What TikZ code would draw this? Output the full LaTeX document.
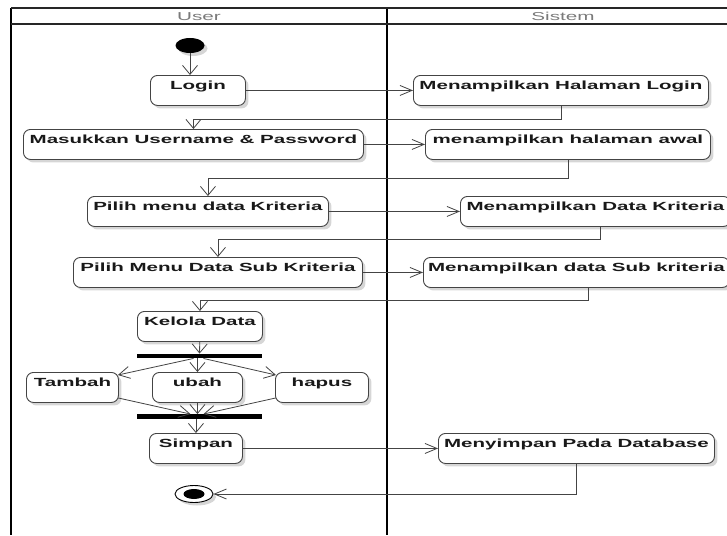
\documentclass[tikz,border=0pt]{standalone}
\usepackage{fontspec}
\setmainfont{Liberation Sans}[FakeStretch=1.74]
\newfontfamily\hdrfont{Liberation Sans}[FakeStretch=1.8]
\usetikzlibrary{arrows.meta,shadows,calc,shapes.geometric}
\definecolor{lnc}{HTML}{444444}
\definecolor{hdrc}{HTML}{7a7a7a}
\tikzset{
  softshadow/.style={drop shadow={shadow xshift=3pt, shadow yshift=-3pt, opacity=0.16, fill=black}},
  act/.style={draw=lnc, line width=0.9pt, rounded corners=7pt, fill=white, anchor=north west,
    inner xsep=4pt, inner ysep=5.5pt, text height=8.5pt, text depth=10.5pt,
    font=\fontsize{11.8}{13}\selectfont\bfseries, text=black!90, softshadow},
  bar/.style={fill=black, minimum width=125pt, minimum height=4.5pt, inner sep=0pt},
  startn/.style={ellipse, fill=black, minimum width=29pt, minimum height=15pt, inner sep=0pt, softshadow},
  endo/.style={ellipse, draw=black, line width=0.9pt, fill=white, minimum width=38pt, minimum height=17pt, inner sep=0pt, softshadow},
  endi/.style={ellipse, fill=black, minimum width=21pt, minimum height=10pt, inner sep=0pt},
  hdr/.style={font=\hdrfont\fontsize{11.5}{13}\selectfont, text=hdrc, inner sep=0pt},
  lane/.style={draw=black, line width=2.8pt},
  hline/.style={draw=black!85, line width=1.3pt},
  con/.style={draw=lnc, line width=0.8pt},
  harr/.style={con, -{Straight Barb[length=12pt,width=10pt]}},
  varr/.style={con, -{Straight Barb[length=9pt,width=15pt]}},
  darr/.style={con, -{Straight Barb[length=11pt,width=12pt]}},
}
\begin{document}
\begin{tikzpicture}[x=1pt,y=-1pt]
\useasboundingbox (0,0) rectangle (727,535);
\fill[white] (0,0) rectangle (727,535);
% swimlanes
\draw[lane] (11,8) -- (11,535);
\draw[lane] (387,8) -- (387,535);
\draw[hline] (11,8) -- (727,8);
\draw[hline] (11,24) -- (727,24);
\node[hdr] (huser) at (199,16.5) {User};
\node[hdr] (hsis) at (563,16.5) {Sistem};
% nodes
\node[startn] (start) at (190,45.5) {};
\node[act, minimum width=95pt] (login) at (150,75) {Login};
\node[act, minimum width=295pt] (hlogin) at (413,75) {Menampilkan Halaman Login};
\node[act, minimum width=340pt] (masuk) at (23,129) {Masukkan Username \& Password};
\node[act, minimum width=285pt] (awal) at (425,129) {menampilkan halaman awal};
\node[act, minimum width=241pt] (pkrit) at (87,196) {Pilih menu data Kriteria};
\node[act, minimum width=270pt] (dkrit) at (460,196) {Menampilkan Data Kriteria};
\node[act, minimum width=289pt] (psub) at (73,257) {Pilih Menu Data Sub Kriteria};
\node[act, minimum width=306pt] (dsub) at (423,257) {Menampilkan data Sub kriteria};
\node[act, minimum width=125pt] (kelola) at (137,311) {Kelola Data};
\node[bar] (fork) at (199.5,356) {};
\node[act, minimum width=92pt] (tambah) at (26,372) {Tambah};
\node[act, minimum width=90pt] (ubah) at (152,372) {ubah};
\node[act, minimum width=93pt] (hapus) at (275,372) {hapus};
\node[bar] (join) at (199.5,416.5) {};
\node[act, minimum width=93pt] (simpan) at (149,433) {Simpan};
\node[act, minimum width=276pt] (db) at (438,433) {Menyimpan Pada Database};
\node[endo] (endc) at (194,494) {};
\node[endi] (endin) at (endc) {};
% connectors
\draw[varr] (start) -- (start |- login.north);
\draw[harr] (login) -- (hlogin);
\draw[varr] (hlogin.south) -- ++(0,13) -| (masuk.north);
\draw[harr] (masuk) -- (awal);
\draw[varr] (awal.south) -- ++(0,18) -| (pkrit.north);
\draw[harr] (pkrit) -- (dkrit);
\draw[varr] ($(dkrit.south west)+(140,0)$) -- ++(0,12) -| (psub.north);
\draw[harr] (psub) -- (dsub);
\draw[varr] ($(dsub.south west)+(165,0)$) -- ++(0,12) -| (kelola.north);
\draw[varr] (kelola) -- (fork);
\draw[darr] ($(fork.south)+(-6,0)$) -- ($(tambah.north east)+(-1,3)$);
\draw[varr] (fork.south -| ubah.north) -- (ubah.north);
\draw[darr] ($(fork.south)+(4,0)$) -- ($(hapus.north west)+(1,3)$);
\draw[darr] ($(tambah.south east)+(-1,-5)$) -- ($(join.north)+(-9,0)$);
\draw[varr] (ubah.south) -- (ubah.south |- join.north);
\draw[darr] ($(hapus.south west)+(1,-5)$) -- ($(join.north)+(4,0)$);
\draw[varr] (join.south -| simpan.north) -- (simpan.north);
\draw[harr] (simpan) -- (db);
\draw[harr] (db.south) |- (endc.east);
\end{tikzpicture}
\end{document}
